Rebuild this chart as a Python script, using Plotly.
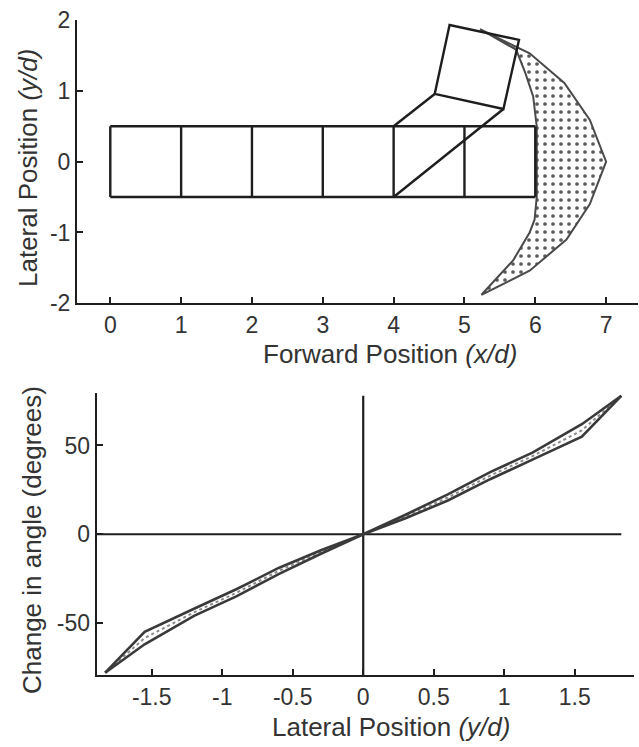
import plotly.graph_objects as go

# ---- Top panel: body outline (x/d, y/d) ----
body_top_x = [0, 6]
body_top_y = [0.5, 0.5]
body_bot_x = [0, 6]
body_bot_y = [-0.5, -0.5]
segment_x = [0, 1, 2, 3, 4, 5, 6]          # vertical segment boundaries
segment_half = 0.5

# rotated head segment and its connecting links
head_x = [4.58, 4.79, 5.77, 5.55, 4.58]
head_y = [0.956, 1.93, 1.72, 0.744, 0.956]
link_a_x = [4.0, 4.58]
link_a_y = [0.5, 0.956]
link_b_x = [4.0, 5.55]
link_b_y = [-0.5, 0.744]

# reachable region of the head (crescent)
outer_x = [5.22, 5.92, 6.41, 6.77, 7.0, 6.77, 6.44, 5.92, 5.24]
outer_y = [1.87, 1.53, 1.11, 0.59, 0.0, -0.6, -1.1, -1.54, -1.88]
inner_x = [5.24, 5.69, 5.92, 5.99, 6.02, 6.02, 6.02, 5.97, 5.86, 5.73, 5.22]
inner_y = [-1.88, -1.39, -1.0, -0.82, -0.5, 0.0, 0.5, 0.92, 1.25, 1.58, 1.87]

top_xticks = [0, 1, 2, 3, 4, 5, 6, 7]
top_yticks = [-2, -1, 0, 1, 2]
top_yticklabels = ["-2", "-1", "0", "1", "2"]

# ---- Bottom panel: change in angle vs lateral position ----
lat_pos = [-1.83, -1.55, -1.2, -0.9, -0.6, -0.3, 0.0, 0.3, 0.6, 0.9, 1.2, 1.55, 1.83]
angle_kinked = [-78, -55, -42, -31, -19, -9, 0, 9, 19, 31, 42, 55, 78]
angle_smooth = [-78, -62, -46, -35, -22.5, -11, 0, 11, 22.5, 35, 46, 62, 78]
angle_mid = [-78, -58.5, -44, -33, -20.7, -10, 0, 10, 20.7, 33, 44, 58.5, 78]

bot_xticks = [-1.5, -1, -0.5, 0, 0.5, 1, 1.5]
bot_xticklabels = ["-1.5", "-1", "-0.5", "0", "0.5", "1", "1.5"]
bot_yticks = [-50, 0, 50]
bot_yticklabels = ["-50", "0", "50"]

hline_x = [-1.89, 1.83]
hline_y = [0, 0]
vline_x = [0, 0]
vline_y = [-79.3, 78]

INK = "#1e1e1e"
GREY = "#4a4a4a"
FONT = "Liberation Sans"

fig = go.Figure()

def seg(x, y, xa, ya, color=INK, width=2.4, dash=None):
    fig.add_trace(go.Scatter(
        x=x, y=y, xaxis=xa, yaxis=ya, mode="lines",
        line=dict(color=color, width=width, dash=dash),
        hoverinfo="skip", showlegend=False))

# crescent with dotted fill
fig.add_trace(go.Scatter(
    x=outer_x + inner_x, y=outer_y + inner_y, xaxis="x", yaxis="y",
    mode="lines", fill="toself", fillcolor="white",
    fillpattern=dict(shape=".", size=8, solidity=0.17,
                     fgcolor="#5a5a5a", bgcolor="white", fillmode="replace"),
    line=dict(color=GREY, width=2), hoverinfo="skip", showlegend=False))

seg(body_top_x, body_top_y, "x", "y")
seg(body_bot_x, body_bot_y, "x", "y")
for sx in segment_x:
    seg([sx, sx], [-segment_half, segment_half], "x", "y")
seg(head_x, head_y, "x", "y")
seg(link_a_x, link_a_y, "x", "y")
seg(link_b_x, link_b_y, "x", "y")

# bottom panel
seg(hline_x, hline_y, "x2", "y2", width=2.2)
seg(vline_x, vline_y, "x2", "y2", width=2.2)
seg(lat_pos, angle_mid, "x2", "y2", color="#8a8a8a", width=2, dash="dot")
seg(lat_pos, angle_kinked, "x2", "y2", color="#3a3a3a", width=2.6)
seg(lat_pos, angle_smooth, "x2", "y2", color="#3a3a3a", width=2.6)

W, H = 639, 747
axis_common = dict(
    showgrid=False, zeroline=False, showline=True, linecolor=INK, linewidth=2,
    ticks="inside", ticklen=6, tickwidth=2, tickcolor=INK, automargin=False,
    tickfont=dict(family=FONT, size=23, color="#333"), mirror=False)

fig.update_layout(
    width=W, height=H, margin=dict(l=0, r=0, t=0, b=0, autoexpand=False),
    paper_bgcolor="white", plot_bgcolor="white",
    xaxis=dict(domain=[77 / W, 638 / W], range=[-0.47, 7.45], anchor="y",
               tickvals=top_xticks, **axis_common),
    yaxis=dict(domain=[(H - 303.3) / H, (H - 20) / H], range=[-2, 2], anchor="x",
               tickvals=top_yticks, ticktext=top_yticklabels, **axis_common),
    xaxis2=dict(domain=[96.7 / W, 634 / W], range=[-1.89, 1.92], anchor="y2",
                tickvals=bot_xticks, ticktext=bot_xticklabels, **axis_common),
    yaxis2=dict(domain=[(H - 675) / H, (H - 393.3) / H], range=[-79.3, 79.4], anchor="x2",
                tickvals=bot_yticks, ticktext=bot_yticklabels, **axis_common),
)

title_font = dict(family=FONT, size=26, color="#333")
fig.add_annotation(text="Forward Position <i>(x/d)</i>", xref="paper", yref="paper",
                   x=390 / W, y=(H - 354) / H, showarrow=False, font=title_font,
                   xanchor="center", yanchor="middle")
fig.add_annotation(text="Lateral Position <i>(y/d)</i>", xref="paper", yref="paper",
                   x=28 / W, y=(H - 168) / H, showarrow=False, font=title_font,
                   textangle=-90, xanchor="center", yanchor="middle")
fig.add_annotation(text="Lateral Position <i>(y/d)</i>", xref="paper", yref="paper",
                   x=391 / W, y=(H - 727) / H, showarrow=False, font=title_font,
                   xanchor="center", yanchor="middle")
fig.add_annotation(text="Change in angle (degrees)", xref="paper", yref="paper",
                   x=32 / W, y=(H - 540) / H, showarrow=False, font=title_font,
                   textangle=-90, xanchor="center", yanchor="middle")

fig.write_html("out.html")
